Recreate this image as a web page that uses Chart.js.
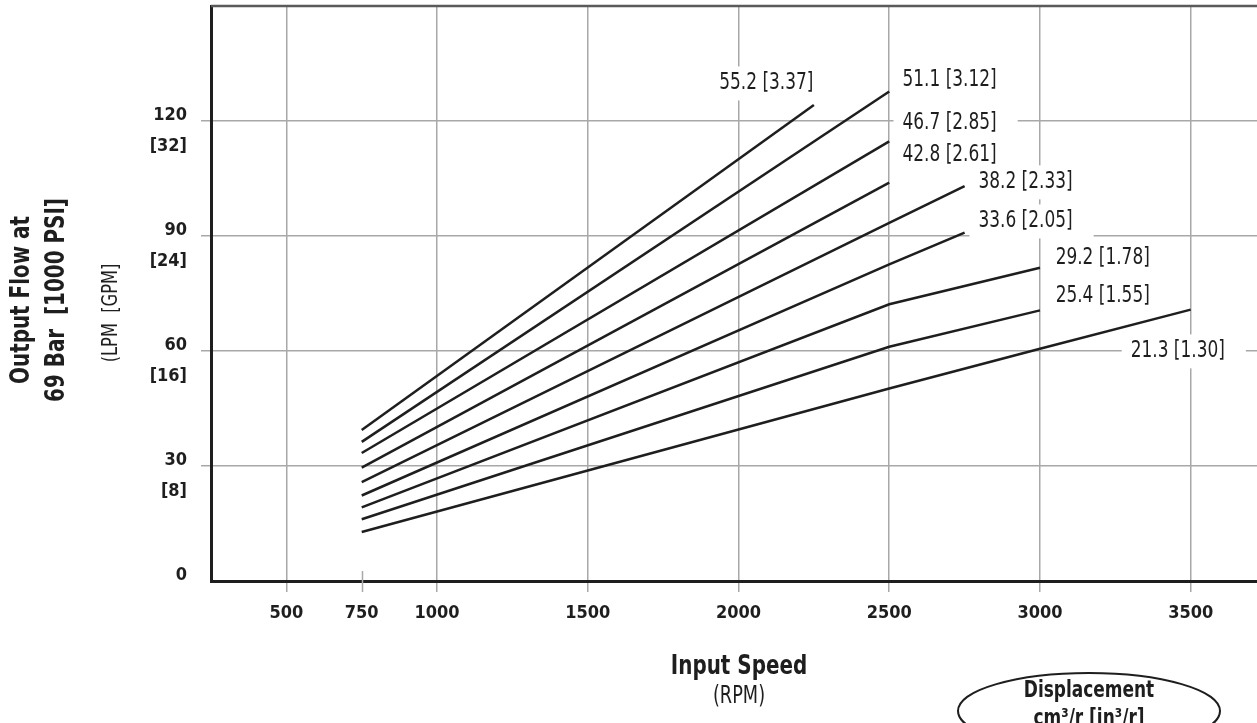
<!DOCTYPE html>
<html>
<head>
<meta charset="utf-8">
<script src="https://cdn.jsdelivr.net/npm/chart.js@4.4.1/dist/chart.umd.min.js"></script>
<style>
  html, body { margin: 0; padding: 0; background: #fff; }
  canvas { display: block; }
</style>
</head>
<body>
<canvas id="flowChart" width="1257" height="723"></canvas>
<script>
// Output flow vs input speed, one line per displacement
const displacements = ["55.2 [3.37]", "51.1 [3.12]", "46.7 [2.85]", "42.8 [2.61]", "38.2 [2.33]",
                       "33.6 [2.05]", "29.2 [1.78]", "25.4 [1.55]", "21.3 [1.30]"];
const seriesSpeeds = [[750, 2250], [750, 2500], [750, 2500], [750, 2500], [750, 2500, 2750],
                      [750, 2500, 2750], [750, 2500, 3000], [750, 2500, 3000], [750, 2500, 3000, 3500]];
const seriesFlows = [[39.4, 124.2], [36.3, 127.7], [33.4, 114.7], [29.6, 103.9], [25.8, 93.4, 103.0],
                     [22.3, 82.6, 90.9], [19.2, 72.2, 81.7], [16.1, 61.1, 70.6], [12.8, 50.2, 60.6, 70.8]];

// axis ticks
const speedTicks = [500, 750, 1000, 1500, 2000, 2500, 3000, 3500];
const flowTicks = [0, 30, 60, 90, 120];
const gpmTicks = ["", "[8]", "[16]", "[24]", "[32]"];

// where each displacement label sits (left edge, middle), in rpm / lpm
const labelAt = [[1936, 129.8], [2544, 130.8], [2544, 119.4], [2544, 111.0], [2796, 104.0],
                 [2796, 93.8], [3052, 84.2], [3052, 74.3], [3301, 59.9]];

const FONT = "'Liberation Sans Narrow', 'DejaVu Sans Condensed', Arial, sans-serif";
const GRID = '#a8a8a8';
const INK = '#1e1e1e';
const SQUEEZE = 0.82; // fake a condensed face

// text squeezed horizontally
const drawText = (ctx, txt, x, y, font, align, sx) => {
    sx = sx || SQUEEZE;
    ctx.save();
    ctx.translate(x, y);
    ctx.scale(sx, 1);
    ctx.font = font;
    ctx.textAlign = align || 'left';
    ctx.textBaseline = 'middle';
    ctx.fillText(txt, 0, 0);
    ctx.restore();
};

// labels, titles and the little extras the axes don't draw
const extras = {
    id: 'extras',
    afterDraw(chart) {
        const { ctx, chartArea, scales } = chart;
        const xs = scales.x, ys = scales.y;
        ctx.save();

        // top border
        ctx.strokeStyle = '#5a5a5a';
        ctx.lineWidth = 2.5;
        ctx.beginPath();
        ctx.moveTo(chartArea.left, chartArea.top);
        ctx.lineTo(chartArea.right, chartArea.top);
        ctx.stroke();

        // short tick at 750
        const x750 = Math.round(xs.getPixelForValue(750)) + 0.5;
        ctx.strokeStyle = GRID;
        ctx.lineWidth = 1.5;
        ctx.beginPath();
        ctx.moveTo(x750, chartArea.bottom - 10);
        ctx.lineTo(x750, chartArea.bottom + 11);
        ctx.stroke();

        // displacement labels on white boxes
        const lblFont = '23px ' + FONT;
        displacements.forEach((txt, i) => {
            const px = xs.getPixelForValue(labelAt[i][0]);
            const py = ys.getPixelForValue(labelAt[i][1]);
            ctx.font = lblFont;
            const w = ctx.measureText(txt).width * SQUEEZE;
            ctx.fillStyle = '#fff';
            ctx.fillRect(px - 9, py - 17, w + 30, 34);
            ctx.fillStyle = INK;
            drawText(ctx, txt, px, py, lblFont);
        });

        // y axis title
        ctx.fillStyle = INK;
        ctx.save();
        ctx.translate(0, 300);
        ctx.rotate(-Math.PI / 2);
        drawText(ctx, 'Output Flow at', 0, 22, 'bold 27px ' + FONT, 'center');
        drawText(ctx, '69 Bar  [1000 PSI]', 0, 57, 'bold 27px ' + FONT, 'center');
        drawText(ctx, '(LPM  [GPM]', -13, 111, '22px ' + FONT, 'center');
        ctx.restore();

        // x axis title
        drawText(ctx, 'Input Speed', 739, 667, 'bold 27px ' + FONT, 'center');
        drawText(ctx, '(RPM)', 739, 697, '24px ' + FONT, 'center');

        // displacement key
        ctx.strokeStyle = INK;
        ctx.lineWidth = 2;
        ctx.beginPath();
        ctx.ellipse(1089, 711, 131, 38, 0, 0, Math.PI * 2);
        ctx.stroke();
        drawText(ctx, 'Displacement', 1089, 691, 'bold 23px ' + FONT, 'center');
        drawText(ctx, 'cm\u00B3/r [in\u00B3/r]', 1089, 719, 'bold 23px ' + FONT, 'center');

        ctx.restore();
    }
};

new Chart(document.getElementById('flowChart'), {
    type: 'line',
    data: {
        datasets: displacements.map((d, i) => ({
            label: d,
            data: seriesSpeeds[i].map((s, j) => ({ x: s, y: seriesFlows[i][j] })),
            borderColor: INK,
            borderWidth: 2.5,
            pointRadius: 0,
            fill: false,
            tension: 0
        }))
    },
    options: {
        responsive: false,
        animation: false,
        devicePixelRatio: 1,
        layout: { padding: { top: 6, right: 0, left: 0, bottom: 0 } },
        plugins: { legend: { display: false }, tooltip: { enabled: false } },
        scales: {
            x: {
                type: 'linear',
                min: 250,
                max: 3720,
                afterBuildTicks: s => { s.ticks = speedTicks.map(v => ({ value: v })); },
                afterFit: s => { s.height = 142; s.paddingLeft = 0; s.paddingRight = 0; },
                ticks: {
                    font: { family: FONT, size: 18, weight: 'bold' },
                    color: INK,
                    padding: 11,
                    autoSkip: false,
                    maxRotation: 0,
                    callback: v => String(v)
                },
                grid: {
                    color: c => (c.tick && c.tick.value === 750) ? 'rgba(0,0,0,0)' : GRID,
                    tickColor: c => (c.tick && c.tick.value === 750) ? 'rgba(0,0,0,0)' : GRID,
                    lineWidth: 1.5,
                    tickLength: 11
                },
                border: { color: INK, width: 3 }
            },
            y: {
                min: 0,
                max: 150,
                afterBuildTicks: s => { s.ticks = flowTicks.map(v => ({ value: v })); },
                afterFit: s => { s.width = 211; s.paddingTop = 0; s.paddingBottom = 0; },
                ticks: {
                    font: { family: FONT, size: 18, weight: 'bold', lineHeight: 1.75 },
                    color: INK,
                    padding: 14,
                    labelOffset: 10,
                    callback: (v, i) => [String(v), gpmTicks[i]]
                },
                grid: {
                    color: c => (c.tick && c.tick.value === 0) ? 'rgba(0,0,0,0)' : GRID,
                    tickColor: c => (c.tick && c.tick.value === 0) ? 'rgba(0,0,0,0)' : GRID,
                    lineWidth: 1.5,
                    tickLength: 10
                },
                border: { color: INK, width: 3 }
            }
        }
    },
    plugins: [extras]
});
</script>
</body>
</html>
